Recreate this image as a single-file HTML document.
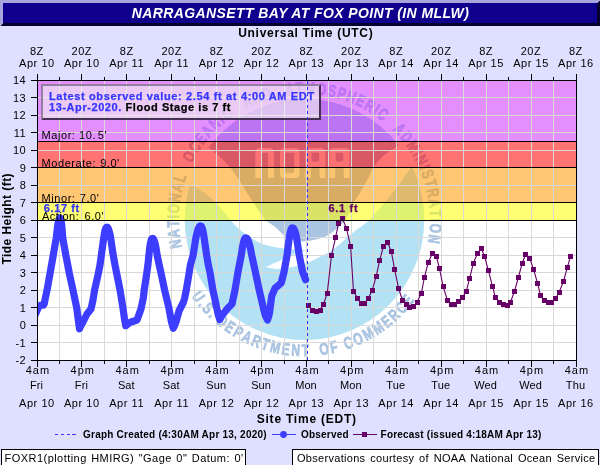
<!DOCTYPE html>
<html><head><meta charset="utf-8"><title>NARRAGANSETT BAY AT FOX POINT</title>
<style>
html,body{margin:0;padding:0;background:#dfdfff;}
body{width:600px;height:465px;overflow:hidden;position:relative;font-family:"Liberation Sans",sans-serif;}
svg{position:absolute;left:0;top:0;display:block;will-change:transform}
text{font-family:"Liberation Sans",sans-serif;}
.t{font-size:11px;fill:#000;letter-spacing:0.55px}
.b{font-weight:bold}
</style></head><body>
<svg width="600" height="465" viewBox="0 0 600 465">

<rect x="0" y="0" width="600" height="465" fill="#dfdfff"/>
<g shape-rendering="crispEdges">
<rect x="0" y="0" width="600" height="26" fill="#0e008d"/>
<polygon points="0,0 600,0 597,3 3,3 3,23 0,26" fill="#a6a6dd"/>
<polygon points="600,0 600,26 0,26 3,23 597,23 597,3" fill="#06002f"/>
</g>
<text x="300.5" y="18" text-anchor="middle" font-size="14" font-weight="bold" font-style="italic" fill="#fff" letter-spacing="0.39">NARRAGANSETT BAY AT FOX POINT (IN MLLW)</text>
<rect x="37.5" y="80.5" width="539.0" height="280.0" fill="#fff"/>
<defs><clipPath id="pc"><rect x="37.5" y="80.5" width="539.0" height="280.0"/></clipPath>
<clipPath id="disc"><ellipse cx="304.5" cy="219.5" rx="119.8" ry="120.5"/></clipPath>
</defs>
<g clip-path="url(#pc)">
<g clip-path="url(#disc)">
<path fill="#b3e2f5" d="M 180 186 L 193 185 Q 206 193 216 203 Q 224 211 232 222 Q 236 226.5 240 230 Q 246 234.5 251.7 238.3 Q 257 241.5 263.3 244.2 Q 270 246.5 278.3 247.7 Q 285 248.5 292 249.3 Q 299 250 306 250 Q 302 252 297 253.5 Q 293 254.5 290 255.5 Q 284 258 280 260.8 Q 272 264 265.8 267 Q 271 268.5 276.7 269.2 Q 281 269 285 268.3 Q 291 267.3 296.7 265.8 Q 303 264.2 308.3 262.5 Q 314 260 320 256.7 Q 325 254.5 330 251.7 Q 340 245 348.5 236 Q 359 228 368.5 221 Q 381.5 207 392.5 193 Q 402 181 410.5 168 L 440 168 L 440 350 L 170 350 Z"/>
<path fill="#aac4e2" d="M 190 130 L 208 147 Q 220 156 230 167 Q 239 179 247 193 Q 256 207 265 220 Q 270 223.5 275 226.7 Q 277.5 229 280 231.7 Q 283 235 286.7 237.5 Q 290.5 239.5 295 240.5 Q 299 241.5 303 241.5 Q 308 241 313 240 Q 318 239 323 237.5 Q 326.5 236 330 234 Q 334 231 338 227.5 Q 341.5 224.5 345 221 Q 350 212 354 202 Q 365 186 373 168 Q 377 162 382 157 Q 389 151 398 146 L 420 130 L 420 90 L 190 90 Z"/>
<path fill="#fff" fill-opacity="0.93" fill-rule="evenodd" d="M 255.3 178 L 255.3 152.5 Q 255.3 148 259.8 148 L 269.5 148 Q 274.0 148 274.0 152.5 L 274.0 178 L 268.0 178 L 268.0 154 Q 268.0 152.7 266.7 152.7 L 261.3 152.7 L 261.3 178 Z M 280 152.5 Q 280 148 284.5 148 L 295.0 148 Q 299.5 148 299.5 152.5 L 299.5 173.5 Q 299.5 178 295.0 178 L 284.5 178 Q 280 178 280 173.5 Z M 285.3 152.7 L 285.3 171.3 Q 285.3 173.3 287.3 173.3 L 292.2 173.3 Q 294.2 173.3 294.2 171.3 L 294.2 152.7 Z M 305.3 178 L 305.3 152.5 Q 305.3 148 309.8 148 L 320.8 148 Q 325.3 148 325.3 152.5 L 325.3 178 L 319.6 178 L 319.6 167.5 L 311.0 167.5 L 311.0 178 Z M 311.5 152.8 L 311.5 159.3 Q 311.5 161.8 314.0 161.8 L 316.6 161.8 Q 319.1 161.8 319.1 159.3 L 319.1 152.8 Z M 329.5 178 L 329.5 152.5 Q 329.5 148 334.0 148 L 345.0 148 Q 349.5 148 349.5 152.5 L 349.5 178 L 343.8 178 L 343.8 167.5 L 335.2 167.5 L 335.2 178 Z M 335.7 152.8 L 335.7 159.3 Q 335.7 161.8 338.2 161.8 L 340.8 161.8 Q 343.3 161.8 343.3 159.3 L 343.3 152.8 Z"/>
</g>
<g font-size="16.8" font-weight="bold" fill="#aac4e2" stroke="#aac4e2" stroke-width="0.7">
<text transform="translate(181.13,243.05) rotate(259.19) scale(0.72,1)" text-anchor="middle">N</text>
<text transform="translate(179.63,233.03) rotate(263.81) scale(0.72,1)" text-anchor="middle">A</text>
<text transform="translate(178.97,223.60) rotate(268.13) scale(0.72,1)" text-anchor="middle">T</text>
<text transform="translate(178.93,216.83) rotate(271.22) scale(0.72,1)" text-anchor="middle">I</text>
<text transform="translate(179.33,209.06) rotate(274.77) scale(0.72,1)" text-anchor="middle">O</text>
<text transform="translate(180.64,198.68) rotate(279.54) scale(0.72,1)" text-anchor="middle">N</text>
<text transform="translate(182.72,188.77) rotate(284.16) scale(0.72,1)" text-anchor="middle">A</text>
<text transform="translate(185.37,179.69) rotate(288.48) scale(0.72,1)" text-anchor="middle">L</text>
<text transform="translate(194.23,159.38) rotate(298.60) scale(0.72,1)" text-anchor="middle">O</text>
<text transform="translate(199.61,150.41) rotate(303.37) scale(0.72,1)" text-anchor="middle">C</text>
<text transform="translate(205.32,142.44) rotate(307.84) scale(0.72,1)" text-anchor="middle">E</text>
<text transform="translate(211.62,134.95) rotate(312.31) scale(0.72,1)" text-anchor="middle">A</text>
<text transform="translate(218.74,127.74) rotate(316.94) scale(0.72,1)" text-anchor="middle">N</text>
<text transform="translate(224.32,122.82) rotate(320.33) scale(0.72,1)" text-anchor="middle">I</text>
<text transform="translate(230.19,118.24) rotate(323.73) scale(0.72,1)" text-anchor="middle">C</text>
<text transform="translate(249.45,106.61) rotate(334.00) scale(0.72,1)" text-anchor="middle">A</text>
<text transform="translate(258.72,102.54) rotate(338.62) scale(0.72,1)" text-anchor="middle">N</text>
<text transform="translate(268.29,99.23) rotate(343.25) scale(0.72,1)" text-anchor="middle">D</text>
<text transform="translate(290.33,94.70) rotate(353.52) scale(0.72,1)" text-anchor="middle">A</text>
<text transform="translate(299.76,93.99) rotate(357.84) scale(0.72,1)" text-anchor="middle">T</text>
<text transform="translate(309.88,94.02) rotate(362.46) scale(0.72,1)" text-anchor="middle">M</text>
<text transform="translate(320.98,94.99) rotate(367.54) scale(0.72,1)" text-anchor="middle">O</text>
<text transform="translate(330.96,96.72) rotate(372.16) scale(0.72,1)" text-anchor="middle">S</text>
<text transform="translate(340.13,99.06) rotate(376.48) scale(0.72,1)" text-anchor="middle">P</text>
<text transform="translate(349.40,102.20) rotate(380.95) scale(0.72,1)" text-anchor="middle">H</text>
<text transform="translate(358.41,106.06) rotate(385.42) scale(0.72,1)" text-anchor="middle">E</text>
<text transform="translate(367.08,110.60) rotate(389.89) scale(0.72,1)" text-anchor="middle">R</text>
<text transform="translate(373.42,114.50) rotate(393.28) scale(0.72,1)" text-anchor="middle">I</text>
<text transform="translate(379.52,118.77) rotate(396.68) scale(0.72,1)" text-anchor="middle">C</text>
<text transform="translate(395.60,133.04) rotate(406.50) scale(0.72,1)" text-anchor="middle">A</text>
<text transform="translate(402.27,140.66) rotate(411.12) scale(0.72,1)" text-anchor="middle">D</text>
<text transform="translate(408.68,149.35) rotate(416.05) scale(0.72,1)" text-anchor="middle">M</text>
<text transform="translate(412.99,156.22) rotate(419.75) scale(0.72,1)" text-anchor="middle">I</text>
<text transform="translate(416.55,162.76) rotate(423.14) scale(0.72,1)" text-anchor="middle">N</text>
<text transform="translate(419.72,169.49) rotate(426.54) scale(0.72,1)" text-anchor="middle">I</text>
<text transform="translate(422.36,176.09) rotate(429.78) scale(0.72,1)" text-anchor="middle">S</text>
<text transform="translate(425.20,184.76) rotate(433.94) scale(0.72,1)" text-anchor="middle">T</text>
<text transform="translate(427.47,193.94) rotate(438.26) scale(0.72,1)" text-anchor="middle">R</text>
<text transform="translate(429.13,203.93) rotate(442.88) scale(0.72,1)" text-anchor="middle">A</text>
<text transform="translate(429.95,213.35) rotate(447.19) scale(0.72,1)" text-anchor="middle">T</text>
<text transform="translate(430.10,220.12) rotate(450.28) scale(0.72,1)" text-anchor="middle">I</text>
<text transform="translate(429.82,227.89) rotate(453.83) scale(0.72,1)" text-anchor="middle">O</text>
<text transform="translate(428.69,238.30) rotate(458.61) scale(0.72,1)" text-anchor="middle">N</text>
<text transform="translate(193.89,299.66) rotate(54.07) scale(0.72,1)" text-anchor="middle">U</text>
<text transform="translate(198.81,306.04) rotate(50.69) scale(0.72,1)" text-anchor="middle">.</text>
<text transform="translate(203.86,311.87) rotate(47.45) scale(0.72,1)" text-anchor="middle">S</text>
<text transform="translate(209.24,317.40) rotate(44.22) scale(0.72,1)" text-anchor="middle">.</text>
<text transform="translate(218.55,325.67) rotate(38.99) scale(0.72,1)" text-anchor="middle">D</text>
<text transform="translate(226.87,331.90) rotate(34.63) scale(0.72,1)" text-anchor="middle">E</text>
<text transform="translate(235.36,337.31) rotate(30.41) scale(0.72,1)" text-anchor="middle">P</text>
<text transform="translate(244.53,342.23) rotate(26.04) scale(0.72,1)" text-anchor="middle">A</text>
<text transform="translate(254.35,346.56) rotate(21.54) scale(0.72,1)" text-anchor="middle">R</text>
<text transform="translate(263.84,349.91) rotate(17.32) scale(0.72,1)" text-anchor="middle">T</text>
<text transform="translate(274.21,352.70) rotate(12.81) scale(0.72,1)" text-anchor="middle">M</text>
<text transform="translate(285.09,354.71) rotate(8.17) scale(0.72,1)" text-anchor="middle">E</text>
<text transform="translate(295.44,355.80) rotate(3.80) scale(0.72,1)" text-anchor="middle">N</text>
<text transform="translate(305.50,356.10) rotate(-0.42) scale(0.72,1)" text-anchor="middle">T</text>
<text transform="translate(324.83,354.58) rotate(-8.56) scale(0.72,1)" text-anchor="middle">O</text>
<text transform="translate(335.04,352.64) rotate(-12.92) scale(0.72,1)" text-anchor="middle">F</text>
<text transform="translate(350.08,348.27) rotate(-19.49) scale(0.72,1)" text-anchor="middle">C</text>
<text transform="translate(360.36,344.16) rotate(-24.14) scale(0.72,1)" text-anchor="middle">O</text>
<text transform="translate(370.86,338.90) rotate(-29.06) scale(0.72,1)" text-anchor="middle">M</text>
<text transform="translate(381.14,332.57) rotate(-34.13) scale(0.72,1)" text-anchor="middle">M</text>
<text transform="translate(390.05,325.99) rotate(-38.78) scale(0.72,1)" text-anchor="middle">E</text>
<text transform="translate(397.90,319.18) rotate(-43.14) scale(0.72,1)" text-anchor="middle">R</text>
<text transform="translate(405.44,311.53) rotate(-47.64) scale(0.72,1)" text-anchor="middle">C</text>
<text transform="translate(412.15,303.58) rotate(-52.01) scale(0.72,1)" text-anchor="middle">E</text>
</g>
<rect x="37.5" y="80.50" width="539.0" height="61.25" fill="#cc33ff" fill-opacity="0.55"/>
<rect x="37.5" y="141.75" width="539.0" height="26.25" fill="#ff0000" fill-opacity="0.55"/>
<rect x="37.5" y="168.00" width="539.0" height="35.00" fill="#ff9900" fill-opacity="0.55"/>
<rect x="37.5" y="203.00" width="539.0" height="17.50" fill="#ffff00" fill-opacity="0.55"/>
<g stroke="#d9d9d9" stroke-width="1" shape-rendering="crispEdges">
<line x1="59.5" y1="80.5" x2="59.5" y2="360.5"/>
<line x1="81.5" y1="80.5" x2="81.5" y2="360.5"/>
<line x1="104.5" y1="80.5" x2="104.5" y2="360.5"/>
<line x1="126.5" y1="80.5" x2="126.5" y2="360.5"/>
<line x1="149.5" y1="80.5" x2="149.5" y2="360.5"/>
<line x1="171.5" y1="80.5" x2="171.5" y2="360.5"/>
<line x1="194.5" y1="80.5" x2="194.5" y2="360.5"/>
<line x1="216.5" y1="80.5" x2="216.5" y2="360.5"/>
<line x1="239.5" y1="80.5" x2="239.5" y2="360.5"/>
<line x1="261.5" y1="80.5" x2="261.5" y2="360.5"/>
<line x1="284.5" y1="80.5" x2="284.5" y2="360.5"/>
<line x1="306.5" y1="80.5" x2="306.5" y2="360.5"/>
<line x1="328.5" y1="80.5" x2="328.5" y2="360.5"/>
<line x1="351.5" y1="80.5" x2="351.5" y2="360.5"/>
<line x1="373.5" y1="80.5" x2="373.5" y2="360.5"/>
<line x1="396.5" y1="80.5" x2="396.5" y2="360.5"/>
<line x1="418.5" y1="80.5" x2="418.5" y2="360.5"/>
<line x1="441.5" y1="80.5" x2="441.5" y2="360.5"/>
<line x1="463.5" y1="80.5" x2="463.5" y2="360.5"/>
<line x1="486.5" y1="80.5" x2="486.5" y2="360.5"/>
<line x1="508.5" y1="80.5" x2="508.5" y2="360.5"/>
<line x1="531.5" y1="80.5" x2="531.5" y2="360.5"/>
<line x1="553.5" y1="80.5" x2="553.5" y2="360.5"/>
<line x1="37.5" y1="342.5" x2="576.5" y2="342.5"/>
<line x1="37.5" y1="325.5" x2="576.5" y2="325.5"/>
<line x1="37.5" y1="307.5" x2="576.5" y2="307.5"/>
<line x1="37.5" y1="290.5" x2="576.5" y2="290.5"/>
<line x1="37.5" y1="272.5" x2="576.5" y2="272.5"/>
<line x1="37.5" y1="255.5" x2="576.5" y2="255.5"/>
<line x1="37.5" y1="237.5" x2="576.5" y2="237.5"/>
<line x1="37.5" y1="220.5" x2="576.5" y2="220.5"/>
<line x1="37.5" y1="202.5" x2="576.5" y2="202.5"/>
<line x1="37.5" y1="185.5" x2="576.5" y2="185.5"/>
<line x1="37.5" y1="167.5" x2="576.5" y2="167.5"/>
<line x1="37.5" y1="150.5" x2="576.5" y2="150.5"/>
<line x1="37.5" y1="132.5" x2="576.5" y2="132.5"/>
<line x1="37.5" y1="115.5" x2="576.5" y2="115.5"/>
<line x1="37.5" y1="97.5" x2="576.5" y2="97.5"/>
</g>
</g>
<g shape-rendering="crispEdges">
<rect x="41" y="84" width="280" height="36" fill="#f0f0f0" fill-opacity="0.62"/>
<polygon points="41,84 321,84 319,86 43,86 43,118 41,120" fill="#85708f" fill-opacity="0.85"/>
<polygon points="321,84 321,120 41,120 43,118 319,118 319,86" fill="#33203f" fill-opacity="0.9"/>
</g>
<text x="49" y="100.3" font-size="11" font-weight="bold" fill="#3636ff" stroke="#3636ff" stroke-width="0.25" letter-spacing="0.645">Latest observed value: 2.54 ft at 4:00 AM EDT</text>
<text x="49" y="110.9" font-size="11" font-weight="bold" fill="#3636ff" stroke="#3636ff" stroke-width="0.25" letter-spacing="0.57">13-Apr-2020.<tspan fill="#000" stroke="#000"> Flood Stage is 7 ft</tspan></text>
<polyline points="33,320 35.5,314 37.5,309.5 39,306 41,305.2 43.5,305.2 44.3,303.5 45.2,298.7 47,290.3 50.2,272.5 53.3,255 56.3,237.5 57.39261210045943,227.8 57.834836768132355,224.8 58.28382898455008,222.3 58.74630605022972,220.3 59.162133320439715,219.0 59.55852242009189,218.20000000000002 60.1,217.9 60.470484659937135,218.20000000000002 60.74169825443599,219.0 61.02621164984283,220.3 61.342643326360474,222.3 61.64984852706734,224.8 61.952423299685655,227.8 62.7,237.5 65.8,255 69.2,272.8 73,290.2 76.7,307.8 78.3,320 79.5,328.8 81,325.5 83,322 87,314 91,309 93,300 94.6,290 98,275 100,265 103.3,241 103.8419601084502,237 104.32512626584708,234 104.81568651670156,231.5 105.32098005422509,229.5 105.77530492340404,228.2 106.20839202169003,227.4 106.8,227.1 107.54629752779974,227.4 108.09262523571219,228.2 108.66574381949934,229.5 109.30315800540038,231.5 109.92198654705622,234 110.53148763899868,237 112.7,252 115,265 120,290 122.9,307.5 124.5,319 125.8,325.7 128,323.8 131,322 134,321 137,320 141,309 143.3,298 144.2,290 146.5,275 147.9,265 149.65118750198315,248.2 150.100178462472,245.2 150.55604051910998,242.7 151.02559375099156,240.7 151.4477834185909,239.39999999999998 151.85023750039664,238.6 152.4,238.29999999999998 153.13454105521595,238.6 153.67226242787928,239.39999999999998 154.23635263803988,240.7 154.86372559759093,242.7 155.47280569373672,245.2 156.07270527607972,248.2 157.3,256 159.2,265 160.9,272.5 164.6,290 168.8,307.5 171.3,321 173.3,328.2 174.8,325 176,322 179,311 183.3,302.5 184.6,298.3 186.3,290 188.8,275 190.4,265 193.2,255 195.5,240 196.32017507268688,235.8 197.019241562753,232.8 197.72900615921893,230.3 198.46008753634345,228.3 199.11742515567877,227.0 199.74403501453736,226.20000000000002 200.6,225.9 201.24888568452303,226.20000000000002 201.72390297389802,227.0 202.22221421130763,228.3 202.77642875033004,230.3 203.3144835701532,232.8 203.84442842261524,235.8 204.6,241 206.6,255 208.3,265 210,272.5 212.9,290 216.7,307.5 218.3,315 219.8,319.6 221.5,316 227.5,308.5 232,304 233.5,297 235,290 237.9,272.5 241.3,255 242.37871335428633,247.7 242.93754622421653,244.7 243.5049311469016,242.2 244.08935667714317,240.2 244.6148315404734,238.89999999999998 245.1157426708573,238.1 245.8,237.79999999999998 246.69713738709825,238.1 247.35388753582376,238.89999999999998 248.04284346774563,240.2 248.80909027406236,242.2 249.55299495047169,244.7 250.28568693549124,247.7 251.7,255 255.5,272.5 259.2,290 263.3,307.5 265.5,316 267.5,320 268.8,316 269.6,312 271.7,296 275,288.3 281.2,283 283.9,272.5 287.1,255 289.2317713235885,237.7 289.7656037088741,234.7 290.3076055540589,232.2 290.86588566179427,230.2 291.36785237634035,228.89999999999998 291.8463542647177,228.1 292.5,227.79999999999998 293.3110048937762,228.1 293.90470168120737,228.89999999999998 294.5275122344405,230.2 295.22019310885287,232.2 295.8926768797303,234.7 296.55502446888096,237.7 299.2,255 302.5,271.5 305.6,279.7" fill="none" stroke="#3d3dff" stroke-width="7.2" stroke-linejoin="round" stroke-linecap="round" clip-path="url(#pc)"/>
<polyline points="308.5,305.25 312.5,310.6 316.25,311.25 320,310 323.4,304.4 327.25,293.1 331.5,255.3 335.6,237.3 338.5,223.5 342.5,218.5 346.5,228.5 350.6,246.3 353.5,291.25 357.5,298 361.25,303.75 365,303.75 368.4,298 372.2,290.3 376.2,276.3 379.7,260.2 383.5,246 387.4,242.3 391.3,251.4 394.6,269.1 398.5,288 402.5,300.5 406.3,305 409.8,307.3 413.3,306.5 417.1,302.1 421.3,293.4 424.4,277.5 428.2,262.4 432.5,253.2 436.3,256 439.6,269 443.2,286.8 447.5,300.5 451.1,304.5 454.7,304.2 458.5,301.8 462.3,297.8 466.3,291.3 469.5,278.8 473.3,263.3 477.5,253.3 481.3,248.3 484.5,256.3 488.3,270.2 492.5,286.3 495.3,297.2 499.5,302.2 503.3,304.3 507.2,305.5 510.5,302.2 514.5,291.3 518.3,277.5 522.2,263.3 525.3,255 529.8,258.5 533.6,269.3 537.5,283.2 540.5,295.2 544.2,300.5 548,302.2 551.8,302.6 555.5,299 559.2,292 563.5,281.4 567.3,267.4 570.6,256.4" fill="none" stroke="#660066" stroke-width="1.1"/>
<g fill="#660066" shape-rendering="crispEdges">
<rect x="306" y="303" width="5" height="5"/>
<rect x="310" y="308" width="5" height="5"/>
<rect x="314" y="309" width="5" height="5"/>
<rect x="318" y="308" width="5" height="5"/>
<rect x="321" y="302" width="5" height="5"/>
<rect x="325" y="291" width="5" height="5"/>
<rect x="329" y="253" width="5" height="5"/>
<rect x="333" y="235" width="5" height="5"/>
<rect x="336" y="221" width="5" height="5"/>
<rect x="340" y="216" width="5" height="5"/>
<rect x="344" y="226" width="5" height="5"/>
<rect x="348" y="244" width="5" height="5"/>
<rect x="351" y="289" width="5" height="5"/>
<rect x="355" y="296" width="5" height="5"/>
<rect x="359" y="301" width="5" height="5"/>
<rect x="362" y="301" width="5" height="5"/>
<rect x="366" y="296" width="5" height="5"/>
<rect x="370" y="288" width="5" height="5"/>
<rect x="374" y="274" width="5" height="5"/>
<rect x="377" y="258" width="5" height="5"/>
<rect x="381" y="244" width="5" height="5"/>
<rect x="385" y="240" width="5" height="5"/>
<rect x="389" y="249" width="5" height="5"/>
<rect x="392" y="267" width="5" height="5"/>
<rect x="396" y="286" width="5" height="5"/>
<rect x="400" y="298" width="5" height="5"/>
<rect x="404" y="302" width="5" height="5"/>
<rect x="407" y="305" width="5" height="5"/>
<rect x="411" y="304" width="5" height="5"/>
<rect x="415" y="300" width="5" height="5"/>
<rect x="419" y="291" width="5" height="5"/>
<rect x="422" y="275" width="5" height="5"/>
<rect x="426" y="260" width="5" height="5"/>
<rect x="430" y="251" width="5" height="5"/>
<rect x="434" y="254" width="5" height="5"/>
<rect x="437" y="266" width="5" height="5"/>
<rect x="441" y="284" width="5" height="5"/>
<rect x="445" y="298" width="5" height="5"/>
<rect x="449" y="302" width="5" height="5"/>
<rect x="452" y="302" width="5" height="5"/>
<rect x="456" y="299" width="5" height="5"/>
<rect x="460" y="295" width="5" height="5"/>
<rect x="464" y="289" width="5" height="5"/>
<rect x="467" y="276" width="5" height="5"/>
<rect x="471" y="261" width="5" height="5"/>
<rect x="475" y="251" width="5" height="5"/>
<rect x="479" y="246" width="5" height="5"/>
<rect x="482" y="254" width="5" height="5"/>
<rect x="486" y="268" width="5" height="5"/>
<rect x="490" y="284" width="5" height="5"/>
<rect x="493" y="295" width="5" height="5"/>
<rect x="497" y="300" width="5" height="5"/>
<rect x="501" y="302" width="5" height="5"/>
<rect x="505" y="303" width="5" height="5"/>
<rect x="508" y="300" width="5" height="5"/>
<rect x="512" y="289" width="5" height="5"/>
<rect x="516" y="275" width="5" height="5"/>
<rect x="520" y="261" width="5" height="5"/>
<rect x="523" y="252" width="5" height="5"/>
<rect x="527" y="256" width="5" height="5"/>
<rect x="531" y="267" width="5" height="5"/>
<rect x="535" y="281" width="5" height="5"/>
<rect x="538" y="293" width="5" height="5"/>
<rect x="542" y="298" width="5" height="5"/>
<rect x="546" y="300" width="5" height="5"/>
<rect x="549" y="300" width="5" height="5"/>
<rect x="553" y="296" width="5" height="5"/>
<rect x="557" y="290" width="5" height="5"/>
<rect x="561" y="279" width="5" height="5"/>
<rect x="565" y="265" width="5" height="5"/>
<rect x="568" y="254" width="5" height="5"/>
</g>
<g stroke="#000" stroke-width="1" shape-rendering="crispEdges">
<line x1="37.5" y1="141.5" x2="576.5" y2="141.5"/>
<line x1="37.5" y1="167.5" x2="576.5" y2="167.5"/>
<line x1="37.5" y1="202.5" x2="576.5" y2="202.5"/>
<line x1="37.5" y1="220.5" x2="576.5" y2="220.5"/>
</g>
<text class="t" x="41.6" y="139">Major: 10.<tspan dx="1.8">5'</tspan></text>
<text class="t" x="41.6" y="167" style="word-spacing:0.5px">Moderate: 9.0'</text>
<text class="t" x="41.6" y="201.6" style="word-spacing:0.7px">Minor: 7.0'</text>
<text class="t" x="41.9" y="220" style="word-spacing:1.6px">Action: 6.0'</text>
<text x="43.8" y="212.2" font-size="11" font-weight="bold" fill="#3636ff" stroke="#3636ff" stroke-width="0.25" letter-spacing="0.6">6.17 ft</text>
<text x="328.4" y="212.4" font-size="11" font-weight="bold" fill="#660066" stroke="#660066" stroke-width="0.25" letter-spacing="0.7">6.1 ft</text>
<line x1="307.5" y1="81" x2="307.5" y2="360.5" stroke="#3030ff" stroke-width="1" stroke-dasharray="3 3" shape-rendering="crispEdges"/>
<g stroke="#000" stroke-width="1" shape-rendering="crispEdges" fill="none">
<rect x="37.5" y="80.5" width="539.0" height="280.0" stroke-width="1.2"/>
<line x1="37.5" y1="80.5" x2="37.5" y2="73.5"/>
<line x1="37.5" y1="360.5" x2="37.5" y2="366.5"/>
<line x1="59.5" y1="80.5" x2="59.5" y2="76.5"/>
<line x1="59.5" y1="360.5" x2="59.5" y2="363.5"/>
<line x1="81.5" y1="80.5" x2="81.5" y2="73.5"/>
<line x1="81.5" y1="360.5" x2="81.5" y2="366.5"/>
<line x1="104.5" y1="80.5" x2="104.5" y2="76.5"/>
<line x1="104.5" y1="360.5" x2="104.5" y2="363.5"/>
<line x1="126.5" y1="80.5" x2="126.5" y2="73.5"/>
<line x1="126.5" y1="360.5" x2="126.5" y2="366.5"/>
<line x1="149.5" y1="80.5" x2="149.5" y2="76.5"/>
<line x1="149.5" y1="360.5" x2="149.5" y2="363.5"/>
<line x1="171.5" y1="80.5" x2="171.5" y2="73.5"/>
<line x1="171.5" y1="360.5" x2="171.5" y2="366.5"/>
<line x1="194.5" y1="80.5" x2="194.5" y2="76.5"/>
<line x1="194.5" y1="360.5" x2="194.5" y2="363.5"/>
<line x1="216.5" y1="80.5" x2="216.5" y2="73.5"/>
<line x1="216.5" y1="360.5" x2="216.5" y2="366.5"/>
<line x1="239.5" y1="80.5" x2="239.5" y2="76.5"/>
<line x1="239.5" y1="360.5" x2="239.5" y2="363.5"/>
<line x1="261.5" y1="80.5" x2="261.5" y2="73.5"/>
<line x1="261.5" y1="360.5" x2="261.5" y2="366.5"/>
<line x1="284.5" y1="80.5" x2="284.5" y2="76.5"/>
<line x1="284.5" y1="360.5" x2="284.5" y2="363.5"/>
<line x1="306.5" y1="80.5" x2="306.5" y2="73.5"/>
<line x1="306.5" y1="360.5" x2="306.5" y2="366.5"/>
<line x1="328.5" y1="80.5" x2="328.5" y2="76.5"/>
<line x1="328.5" y1="360.5" x2="328.5" y2="363.5"/>
<line x1="351.5" y1="80.5" x2="351.5" y2="73.5"/>
<line x1="351.5" y1="360.5" x2="351.5" y2="366.5"/>
<line x1="373.5" y1="80.5" x2="373.5" y2="76.5"/>
<line x1="373.5" y1="360.5" x2="373.5" y2="363.5"/>
<line x1="396.5" y1="80.5" x2="396.5" y2="73.5"/>
<line x1="396.5" y1="360.5" x2="396.5" y2="366.5"/>
<line x1="418.5" y1="80.5" x2="418.5" y2="76.5"/>
<line x1="418.5" y1="360.5" x2="418.5" y2="363.5"/>
<line x1="441.5" y1="80.5" x2="441.5" y2="73.5"/>
<line x1="441.5" y1="360.5" x2="441.5" y2="366.5"/>
<line x1="463.5" y1="80.5" x2="463.5" y2="76.5"/>
<line x1="463.5" y1="360.5" x2="463.5" y2="363.5"/>
<line x1="486.5" y1="80.5" x2="486.5" y2="73.5"/>
<line x1="486.5" y1="360.5" x2="486.5" y2="366.5"/>
<line x1="508.5" y1="80.5" x2="508.5" y2="76.5"/>
<line x1="508.5" y1="360.5" x2="508.5" y2="363.5"/>
<line x1="531.5" y1="80.5" x2="531.5" y2="73.5"/>
<line x1="531.5" y1="360.5" x2="531.5" y2="366.5"/>
<line x1="553.5" y1="80.5" x2="553.5" y2="76.5"/>
<line x1="553.5" y1="360.5" x2="553.5" y2="363.5"/>
<line x1="576.5" y1="80.5" x2="576.5" y2="73.5"/>
<line x1="576.5" y1="360.5" x2="576.5" y2="366.5"/>
<line x1="37.5" y1="360.5" x2="31.0" y2="360.5"/>
<line x1="37.5" y1="342.5" x2="31.0" y2="342.5"/>
<line x1="37.5" y1="325.5" x2="31.0" y2="325.5"/>
<line x1="37.5" y1="307.5" x2="31.0" y2="307.5"/>
<line x1="37.5" y1="290.5" x2="31.0" y2="290.5"/>
<line x1="37.5" y1="272.5" x2="31.0" y2="272.5"/>
<line x1="37.5" y1="255.5" x2="31.0" y2="255.5"/>
<line x1="37.5" y1="237.5" x2="31.0" y2="237.5"/>
<line x1="37.5" y1="220.5" x2="31.0" y2="220.5"/>
<line x1="37.5" y1="202.5" x2="31.0" y2="202.5"/>
<line x1="37.5" y1="185.5" x2="31.0" y2="185.5"/>
<line x1="37.5" y1="167.5" x2="31.0" y2="167.5"/>
<line x1="37.5" y1="150.5" x2="31.0" y2="150.5"/>
<line x1="37.5" y1="132.5" x2="31.0" y2="132.5"/>
<line x1="37.5" y1="115.5" x2="31.0" y2="115.5"/>
<line x1="37.5" y1="97.5" x2="31.0" y2="97.5"/>
<line x1="37.5" y1="80.5" x2="31.0" y2="80.5"/>
</g>
<text class="t" x="26.3" y="364.4" text-anchor="end">-2</text>
<text class="t" x="26.3" y="346.9" text-anchor="end">-1</text>
<text class="t" x="26.3" y="329.4" text-anchor="end">0</text>
<text class="t" x="26.3" y="311.9" text-anchor="end">1</text>
<text class="t" x="26.3" y="294.4" text-anchor="end">2</text>
<text class="t" x="26.3" y="276.9" text-anchor="end">3</text>
<text class="t" x="26.3" y="259.4" text-anchor="end">4</text>
<text class="t" x="26.3" y="241.9" text-anchor="end">5</text>
<text class="t" x="26.3" y="224.4" text-anchor="end">6</text>
<text class="t" x="26.3" y="206.9" text-anchor="end">7</text>
<text class="t" x="26.3" y="189.4" text-anchor="end">8</text>
<text class="t" x="26.3" y="171.9" text-anchor="end">9</text>
<text class="t" x="26.3" y="154.4" text-anchor="end">10</text>
<text class="t" x="26.3" y="136.9" text-anchor="end">11</text>
<text class="t" x="26.3" y="119.4" text-anchor="end">12</text>
<text class="t" x="26.3" y="101.9" text-anchor="end">13</text>
<text class="t" x="26.3" y="84.4" text-anchor="end">14</text>
<text class="t" x="36.9" y="54.8" text-anchor="middle">8Z</text>
<text class="t" x="36.9" y="66.8" text-anchor="middle">Apr 10</text>
<text class="t" x="37.9" y="374.3" text-anchor="middle" style="letter-spacing:1.0px">4am</text>
<text class="t" x="36.5" y="389.2" text-anchor="middle" style="letter-spacing:0.1px">Fri</text>
<text class="t" x="36.9" y="407.1" text-anchor="middle">Apr 10</text>
<text class="t" x="81.8" y="54.8" text-anchor="middle">20Z</text>
<text class="t" x="81.8" y="66.8" text-anchor="middle">Apr 10</text>
<text class="t" x="82.8" y="374.3" text-anchor="middle" style="letter-spacing:1.0px">4pm</text>
<text class="t" x="81.4" y="389.2" text-anchor="middle" style="letter-spacing:0.1px">Fri</text>
<text class="t" x="81.8" y="407.1" text-anchor="middle">Apr 10</text>
<text class="t" x="126.7" y="54.8" text-anchor="middle">8Z</text>
<text class="t" x="126.7" y="66.8" text-anchor="middle">Apr 11</text>
<text class="t" x="127.7" y="374.3" text-anchor="middle" style="letter-spacing:1.0px">4am</text>
<text class="t" x="126.3" y="389.2" text-anchor="middle" style="letter-spacing:0.1px">Sat</text>
<text class="t" x="126.7" y="407.1" text-anchor="middle">Apr 11</text>
<text class="t" x="171.7" y="54.8" text-anchor="middle">20Z</text>
<text class="t" x="171.7" y="66.8" text-anchor="middle">Apr 11</text>
<text class="t" x="172.6" y="374.3" text-anchor="middle" style="letter-spacing:1.0px">4pm</text>
<text class="t" x="171.2" y="389.2" text-anchor="middle" style="letter-spacing:0.1px">Sat</text>
<text class="t" x="171.7" y="407.1" text-anchor="middle">Apr 11</text>
<text class="t" x="216.6" y="54.8" text-anchor="middle">8Z</text>
<text class="t" x="216.6" y="66.8" text-anchor="middle">Apr 12</text>
<text class="t" x="217.5" y="374.3" text-anchor="middle" style="letter-spacing:1.0px">4am</text>
<text class="t" x="216.2" y="389.2" text-anchor="middle" style="letter-spacing:0.1px">Sun</text>
<text class="t" x="216.6" y="407.1" text-anchor="middle">Apr 12</text>
<text class="t" x="261.5" y="54.8" text-anchor="middle">20Z</text>
<text class="t" x="261.5" y="66.8" text-anchor="middle">Apr 12</text>
<text class="t" x="262.4" y="374.3" text-anchor="middle" style="letter-spacing:1.0px">4pm</text>
<text class="t" x="261.1" y="389.2" text-anchor="middle" style="letter-spacing:0.1px">Sun</text>
<text class="t" x="261.5" y="407.1" text-anchor="middle">Apr 12</text>
<text class="t" x="306.4" y="54.8" text-anchor="middle">8Z</text>
<text class="t" x="306.4" y="66.8" text-anchor="middle">Apr 13</text>
<text class="t" x="307.4" y="374.3" text-anchor="middle" style="letter-spacing:1.0px">4am</text>
<text class="t" x="306.0" y="389.2" text-anchor="middle" style="letter-spacing:0.1px">Mon</text>
<text class="t" x="306.4" y="407.1" text-anchor="middle">Apr 13</text>
<text class="t" x="351.3" y="54.8" text-anchor="middle">20Z</text>
<text class="t" x="351.3" y="66.8" text-anchor="middle">Apr 13</text>
<text class="t" x="352.3" y="374.3" text-anchor="middle" style="letter-spacing:1.0px">4pm</text>
<text class="t" x="350.9" y="389.2" text-anchor="middle" style="letter-spacing:0.1px">Mon</text>
<text class="t" x="351.3" y="407.1" text-anchor="middle">Apr 13</text>
<text class="t" x="396.2" y="54.8" text-anchor="middle">8Z</text>
<text class="t" x="396.2" y="66.8" text-anchor="middle">Apr 14</text>
<text class="t" x="397.2" y="374.3" text-anchor="middle" style="letter-spacing:1.0px">4am</text>
<text class="t" x="395.8" y="389.2" text-anchor="middle" style="letter-spacing:0.1px">Tue</text>
<text class="t" x="396.2" y="407.1" text-anchor="middle">Apr 14</text>
<text class="t" x="441.2" y="54.8" text-anchor="middle">20Z</text>
<text class="t" x="441.2" y="66.8" text-anchor="middle">Apr 14</text>
<text class="t" x="442.1" y="374.3" text-anchor="middle" style="letter-spacing:1.0px">4pm</text>
<text class="t" x="440.8" y="389.2" text-anchor="middle" style="letter-spacing:0.1px">Tue</text>
<text class="t" x="441.2" y="407.1" text-anchor="middle">Apr 14</text>
<text class="t" x="486.1" y="54.8" text-anchor="middle">8Z</text>
<text class="t" x="486.1" y="66.8" text-anchor="middle">Apr 15</text>
<text class="t" x="487.0" y="374.3" text-anchor="middle" style="letter-spacing:1.0px">4am</text>
<text class="t" x="485.7" y="389.2" text-anchor="middle" style="letter-spacing:0.1px">Wed</text>
<text class="t" x="486.1" y="407.1" text-anchor="middle">Apr 15</text>
<text class="t" x="531.0" y="54.8" text-anchor="middle">20Z</text>
<text class="t" x="531.0" y="66.8" text-anchor="middle">Apr 15</text>
<text class="t" x="531.9" y="374.3" text-anchor="middle" style="letter-spacing:1.0px">4pm</text>
<text class="t" x="530.6" y="389.2" text-anchor="middle" style="letter-spacing:0.1px">Wed</text>
<text class="t" x="531.0" y="407.1" text-anchor="middle">Apr 15</text>
<text class="t" x="575.9" y="54.8" text-anchor="middle">8Z</text>
<text class="t" x="575.9" y="66.8" text-anchor="middle">Apr 16</text>
<text class="t" x="576.9" y="374.3" text-anchor="middle" style="letter-spacing:1.0px">4am</text>
<text class="t" x="575.5" y="389.2" text-anchor="middle" style="letter-spacing:0.1px">Thu</text>
<text class="t" x="575.9" y="407.1" text-anchor="middle">Apr 16</text>
<text x="305.8" y="36.6" text-anchor="middle" font-size="12" font-weight="bold" letter-spacing="0.7">Universal Time (UTC)</text>
<text x="306.8" y="422.5" text-anchor="middle" font-size="12" font-weight="bold" letter-spacing="0.78">Site Time (EDT)</text>
<text transform="translate(11.4,218.8) rotate(-90)" text-anchor="middle" font-size="12" font-weight="bold" letter-spacing="0.45">Tide Height (ft)</text>
<line x1="55" y1="434.5" x2="77" y2="434.5" stroke="#3636ff" stroke-width="1" stroke-dasharray="3.4 2.4" shape-rendering="crispEdges"/>
<text x="83" y="437.6" font-size="10" font-weight="bold" letter-spacing="0.23">Graph Created (4:30AM Apr 13, 2020)</text>
<line x1="272" y1="434.5" x2="296" y2="434.5" stroke="#3d3dff" stroke-width="1" shape-rendering="crispEdges"/>
<circle cx="283.5" cy="434.5" r="3.4" fill="#3d3dff"/>
<text x="301" y="437.6" font-size="10" font-weight="bold" letter-spacing="0.2">Observed</text>
<line x1="353" y1="434.5" x2="377" y2="434.5" stroke="#660066" stroke-width="1" shape-rendering="crispEdges"/>
<rect x="362" y="432" width="5" height="5" fill="#660066" shape-rendering="crispEdges"/>
<text x="380.6" y="437.6" font-size="10" font-weight="bold" letter-spacing="0.2">Forecast (issued 4:18AM Apr 13)</text>
<g shape-rendering="crispEdges" stroke="#000" stroke-width="1" fill="#fff">
<rect x="1.5" y="449.5" width="244" height="20"/>
<rect x="292.5" y="449.5" width="306" height="20"/>
</g>
<text class="t" x="4.6" y="461.8" style="letter-spacing:0.45px;word-spacing:1px">FOXR1(plotting HMIRG) "Gage 0" Datum: 0'</text>
<text class="t" x="297" y="461.8" style="letter-spacing:0.3px;word-spacing:1.5px">Observations courtesy of NOAA National Ocean Service</text>
</svg></body></html>
